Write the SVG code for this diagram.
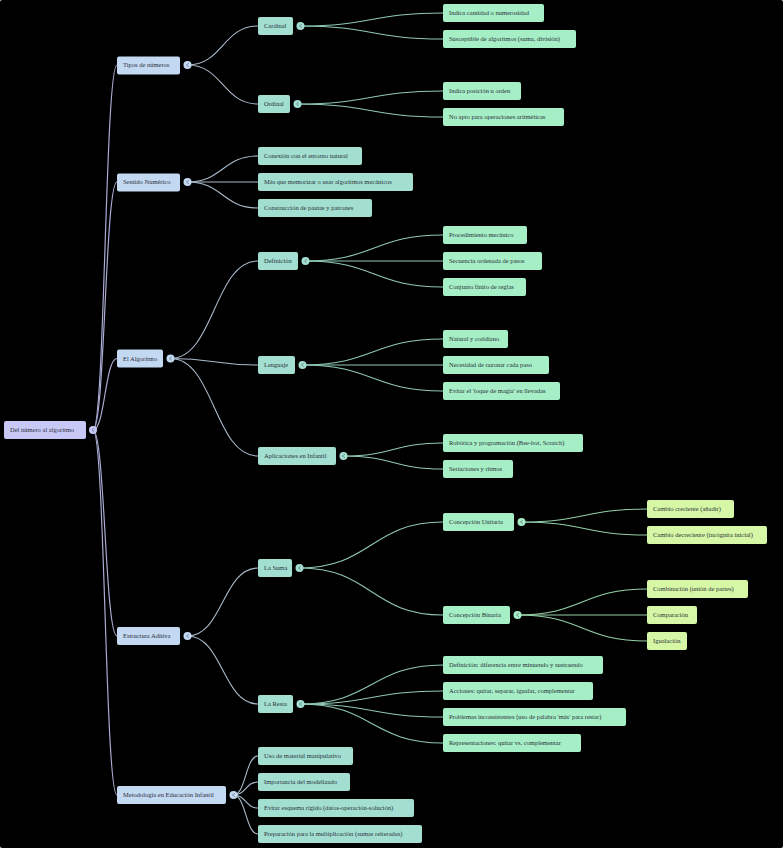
<svg xmlns="http://www.w3.org/2000/svg" width="783" height="848" viewBox="0 0 783 848">
<style>
text{font-family:"Liberation Serif","Times New Roman",serif;font-size:6.5px;fill:#2b2f3a}
rect{rx:2;ry:2}
.r0{fill:#c7c8f6}
.r1{fill:#c3d8f1}
.r2{fill:#a2dfd1}
.r3{fill:#a5eec6}
.r4{fill:#d6f7a5}
.e0{fill:none;stroke:#a9abd3;stroke-width:1.2}
.e1{fill:none;stroke:#a9bacb;stroke-width:1.1}
.e2{fill:none;stroke:#8fc8b6;stroke-width:1.1}
.e3{fill:none;stroke:#93cfa6;stroke-width:1.1}
.cv{fill:none;stroke:#5d6a7c;stroke-width:0.7}
</style>
<rect width="783" height="848" fill="#000"/>
<g id="connectors">
<path class="e0" d="M93 430 C105 430 105 65 117 65"/>
<path class="e0" d="M93 430 C105 430 105 182 117 182"/>
<path class="e0" d="M93 430 C105 430 105 358.5 117 358.5"/>
<path class="e0" d="M93 430 C105 430 105 636 117 636"/>
<path class="e0" d="M93 430 C105 430 105 795 117 795"/>
<path class="e1" d="M187.5 65 C222.7 65 222.7 26 258 26"/>
<path class="e1" d="M187.5 65 C222.7 65 222.7 104 258 104"/>
<path class="e1" d="M187.5 182 C222.7 182 222.7 156 258 156"/>
<path class="e1" d="M187.5 182 C222.7 182 222.7 182 258 182"/>
<path class="e1" d="M187.5 182 C222.7 182 222.7 208 258 208"/>
<path class="e1" d="M170.5 358.5 C214.2 358.5 214.2 261 258 261"/>
<path class="e1" d="M170.5 358.5 C214.2 358.5 214.2 365 258 365"/>
<path class="e1" d="M170.5 358.5 C214.2 358.5 214.2 456 258 456"/>
<path class="e1" d="M187.5 636 C222.7 636 222.7 568 258 568"/>
<path class="e1" d="M187.5 636 C222.7 636 222.7 704 258 704"/>
<path class="e1" d="M233.5 795 C245.7 795 245.7 756 258 756"/>
<path class="e1" d="M233.5 795 C245.7 795 245.7 782 258 782"/>
<path class="e1" d="M233.5 795 C245.7 795 245.7 808 258 808"/>
<path class="e1" d="M233.5 795 C245.7 795 245.7 834 258 834"/>
<path class="e2" d="M300.5 26 C371.7 26 371.7 13 443 13"/>
<path class="e2" d="M300.5 26 C371.7 26 371.7 39 443 39"/>
<path class="e2" d="M297.5 104 C370.2 104 370.2 91 443 91"/>
<path class="e2" d="M297.5 104 C370.2 104 370.2 117 443 117"/>
<path class="e2" d="M305.5 261 C374.2 261 374.2 235 443 235"/>
<path class="e2" d="M305.5 261 C374.2 261 374.2 261 443 261"/>
<path class="e2" d="M305.5 261 C374.2 261 374.2 287 443 287"/>
<path class="e2" d="M302.5 365 C372.7 365 372.7 339 443 339"/>
<path class="e2" d="M302.5 365 C372.7 365 372.7 365 443 365"/>
<path class="e2" d="M302.5 365 C372.7 365 372.7 391 443 391"/>
<path class="e2" d="M343.5 456 C393.2 456 393.2 443 443 443"/>
<path class="e2" d="M343.5 456 C393.2 456 393.2 469 443 469"/>
<path class="e2" d="M299.5 568 C371.2 568 371.2 522 443 522"/>
<path class="e2" d="M299.5 568 C371.2 568 371.2 615 443 615"/>
<path class="e2" d="M300.5 704 C371.7 704 371.7 665 443 665"/>
<path class="e2" d="M300.5 704 C371.7 704 371.7 691 443 691"/>
<path class="e2" d="M300.5 704 C371.7 704 371.7 717 443 717"/>
<path class="e2" d="M300.5 704 C371.7 704 371.7 743 443 743"/>
<path class="e3" d="M521.5 522 C584.2 522 584.2 509 647 509"/>
<path class="e3" d="M521.5 522 C584.2 522 584.2 535 647 535"/>
<path class="e3" d="M517.5 615 C582.2 615 582.2 589 647 589"/>
<path class="e3" d="M517.5 615 C582.2 615 582.2 615 647 615"/>
<path class="e3" d="M517.5 615 C582.2 615 582.2 641 647 641"/>
</g>
<g id="n-root"><rect class="r0" x="4" y="421" width="82" height="18"/><text x="10" y="432.3">Del número al algoritmo</text><circle class="r0" cx="93" cy="430" r="4"/><path class="cv" d="M94.3 428.3 L92 430 L94.3 431.7"/></g>
<g id="n-tipos"><rect class="r1" x="117" y="56.5" width="63" height="18"/><text x="123" y="67.3">Tipos de números</text><circle class="r1" cx="187.5" cy="65" r="4"/><path class="cv" d="M188.8 63.3 L186.5 65 L188.8 66.7"/></g>
<g id="n-sentido"><rect class="r1" x="117" y="173.5" width="63" height="18"/><text x="123" y="184.3">Sentido Numérico</text><circle class="r1" cx="187.5" cy="182" r="4"/><path class="cv" d="M188.8 180.3 L186.5 182 L188.8 183.7"/></g>
<g id="n-algoritmo"><rect class="r1" x="117" y="349.5" width="46" height="18"/><text x="123" y="360.8">El Algoritmo</text><circle class="r1" cx="170.5" cy="358.5" r="4"/><path class="cv" d="M171.8 356.8 L169.5 358.5 L171.8 360.2"/></g>
<g id="n-estructura"><rect class="r1" x="117" y="627" width="63" height="18"/><text x="123" y="638.3">Estructura Aditiva</text><circle class="r1" cx="187.5" cy="636" r="4"/><path class="cv" d="M188.8 634.3 L186.5 636 L188.8 637.7"/></g>
<g id="n-metodologia"><rect class="r1" x="117" y="786" width="109" height="18"/><text x="123" y="797.3">Metodología en Educación Infantil</text><circle class="r1" cx="233.5" cy="795" r="4"/><path class="cv" d="M234.8 793.3 L232.5 795 L234.8 796.7"/></g>
<g id="n-cardinal"><rect class="r2" x="258" y="17" width="35" height="18"/><text x="264" y="28.3">Cardinal</text><circle class="r2" cx="300.5" cy="26" r="4"/><path class="cv" d="M301.8 24.3 L299.5 26 L301.8 27.7"/></g>
<g id="n-ordinal"><rect class="r2" x="258" y="95" width="32" height="18"/><text x="264" y="106.3">Ordinal</text><circle class="r2" cx="297.5" cy="104" r="4"/><path class="cv" d="M298.8 102.3 L296.5 104 L298.8 105.7"/></g>
<g id="n-conexion"><rect class="r2" x="258" y="147" width="104" height="18"/><text x="264" y="158.3">Conexión con el entorno natural</text></g>
<g id="n-mas"><rect class="r2" x="258" y="173" width="155" height="18"/><text x="264" y="184.3">Más que memorizar o usar algoritmos mecánicos</text></g>
<g id="n-construccion"><rect class="r2" x="258" y="199" width="114" height="18"/><text x="264" y="210.3">Construcción de pautas y patrones</text></g>
<g id="n-definicion"><rect class="r2" x="258" y="252" width="40" height="18"/><text x="264" y="263.3">Definición</text><circle class="r2" cx="305.5" cy="261" r="4"/><path class="cv" d="M306.8 259.3 L304.5 261 L306.8 262.7"/></g>
<g id="n-lenguaje"><rect class="r2" x="258" y="356" width="37" height="18"/><text x="264" y="367.3">Lenguaje</text><circle class="r2" cx="302.5" cy="365" r="4"/><path class="cv" d="M303.8 363.3 L301.5 365 L303.8 366.7"/></g>
<g id="n-aplicaciones"><rect class="r2" x="258" y="447" width="78" height="18"/><text x="264" y="458.3">Aplicaciones en Infantil</text><circle class="r2" cx="343.5" cy="456" r="4"/><path class="cv" d="M344.8 454.3 L342.5 456 L344.8 457.7"/></g>
<g id="n-suma"><rect class="r2" x="258" y="559" width="34" height="18"/><text x="264" y="570.3">La Suma</text><circle class="r2" cx="299.5" cy="568" r="4"/><path class="cv" d="M300.8 566.3 L298.5 568 L300.8 569.7"/></g>
<g id="n-resta"><rect class="r2" x="258" y="695" width="35" height="18"/><text x="264" y="706.3">La Resta</text><circle class="r2" cx="300.5" cy="704" r="4"/><path class="cv" d="M301.8 702.3 L299.5 704 L301.8 705.7"/></g>
<g id="n-uso"><rect class="r2" x="258" y="747" width="95" height="18"/><text x="264" y="758.3">Uso de material manipulativo</text></g>
<g id="n-importancia"><rect class="r2" x="258" y="773" width="92" height="18"/><text x="264" y="784.3">Importancia del modelizado</text></g>
<g id="n-evitar-esquema"><rect class="r2" x="258" y="799" width="156" height="18"/><text x="264" y="810.3">Evitar esquema rígido (datos-operación-solución)</text></g>
<g id="n-preparacion"><rect class="r2" x="258" y="825" width="164" height="18"/><text x="264" y="836.3">Preparación para la multiplicación (sumas reiteradas)</text></g>
<g id="n-indica-cantidad"><rect class="r3" x="443" y="4" width="101" height="18"/><text x="449" y="15.3">Indica cantidad o numerosidad</text></g>
<g id="n-susceptible"><rect class="r3" x="443" y="30" width="133" height="18"/><text x="449" y="41.3">Susceptible de algoritmos (suma, división)</text></g>
<g id="n-indica-posicion"><rect class="r3" x="443" y="82" width="78" height="18"/><text x="449" y="93.3">Indica posición u orden</text></g>
<g id="n-no-apto"><rect class="r3" x="443" y="108" width="121" height="18"/><text x="449" y="119.3">No apto para operaciones aritméticas</text></g>
<g id="n-procedimiento"><rect class="r3" x="443" y="226" width="84" height="18"/><text x="449" y="237.3">Procedimiento mecánico</text></g>
<g id="n-secuencia"><rect class="r3" x="443" y="252" width="99" height="18"/><text x="449" y="263.3">Secuencia ordenada de pasos</text></g>
<g id="n-conjunto"><rect class="r3" x="443" y="278" width="83" height="18"/><text x="449" y="289.3">Conjunto finito de reglas</text></g>
<g id="n-natural"><rect class="r3" x="443" y="330" width="65" height="18"/><text x="449" y="341.3">Natural y cotidiano</text></g>
<g id="n-necesidad"><rect class="r3" x="443" y="356" width="106" height="18"/><text x="449" y="367.3">Necesidad de razonar cada paso</text></g>
<g id="n-toque"><rect class="r3" x="443" y="382" width="117" height="18"/><text x="449" y="393.3">Evitar el 'toque de magia' en llevadas</text></g>
<g id="n-robotica"><rect class="r3" x="443" y="434" width="140" height="18"/><text x="449" y="445.3">Robótica y programación (Bee-bot, Scratch)</text></g>
<g id="n-seriaciones"><rect class="r3" x="443" y="460" width="70" height="18"/><text x="449" y="471.3">Seriaciones y ritmos</text></g>
<g id="n-unitaria"><rect class="r3" x="443" y="513" width="71" height="18"/><text x="449" y="524.3">Concepción Unitaria</text><circle class="r3" cx="521.5" cy="522" r="4"/><path class="cv" d="M522.8 520.3 L520.5 522 L522.8 523.7"/></g>
<g id="n-binaria"><rect class="r3" x="443" y="606" width="67" height="18"/><text x="449" y="617.3">Concepción Binaria</text><circle class="r3" cx="517.5" cy="615" r="4"/><path class="cv" d="M518.8 613.3 L516.5 615 L518.8 616.7"/></g>
<g id="n-def-resta"><rect class="r3" x="443" y="656" width="160" height="18"/><text x="449" y="667.3">Definición: diferencia entre minuendo y sustraendo</text></g>
<g id="n-acciones"><rect class="r3" x="443" y="682" width="150" height="18"/><text x="449" y="693.3">Acciones: quitar, separar, igualar, complementar</text></g>
<g id="n-problemas"><rect class="r3" x="443" y="708" width="183" height="18"/><text x="449" y="719.3">Problemas inconsistentes (uso de palabra 'más' para restar)</text></g>
<g id="n-representaciones"><rect class="r3" x="443" y="734" width="138" height="18"/><text x="449" y="745.3">Representaciones: quitar vs. complementar</text></g>
<g id="n-creciente"><rect class="r4" x="647" y="500" width="87" height="18"/><text x="653" y="511.3">Cambio creciente (añadir)</text></g>
<g id="n-decreciente"><rect class="r4" x="647" y="526" width="120" height="18"/><text x="653" y="537.3">Cambio decreciente (incógnita inicial)</text></g>
<g id="n-combinacion"><rect class="r4" x="647" y="580" width="101" height="18"/><text x="653" y="591.3">Combinación (unión de partes)</text></g>
<g id="n-comparacion"><rect class="r4" x="647" y="606" width="50" height="18"/><text x="653" y="617.3">Comparación</text></g>
<g id="n-igualacion"><rect class="r4" x="647" y="632" width="40" height="18"/><text x="653" y="643.3">Igualación</text></g>
</svg>
